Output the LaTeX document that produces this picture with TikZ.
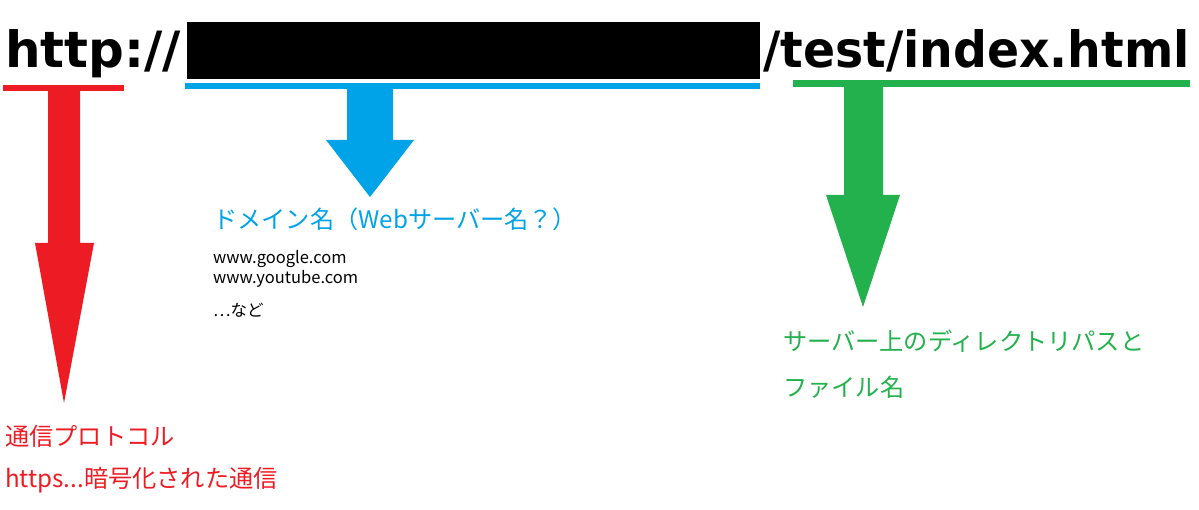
\documentclass[tikz,border=0pt]{standalone}
\usepackage{fontspec}
\setmainfont{DejaVu Sans}
\newfontfamily\jp{Noto Sans CJK JP}
\definecolor{pred}{HTML}{ED1C24}
\definecolor{pblue}{HTML}{00A2E8}
\definecolor{pgreen}{HTML}{22B14C}
\begin{document}
\begin{tikzpicture}[x=1pt,y=-1pt,
  urltxt/.style={inner sep=0pt, anchor=base west, font=\bfseries\fontsize{50}{60}\selectfont},
  lbl/.style={inner sep=0pt, anchor=west, font=\jp\fontsize{24.2}{29}\selectfont},
  small/.style={inner sep=0pt, anchor=west, font=\jp\fontsize{16.5}{19}\selectfont}]
\useasboundingbox (0,0) rectangle (1199,510);
% URL
\node[urltxt] (proto) at (5,68) {http://};
\fill[black] (187,22) rectangle (760,79);
\node[urltxt] (path) at (763,68) {\scalebox{0.947}[1]{/test/index.html}};
% red arrow
\fill[pred] (3,85) rectangle (124,91);
\fill[pred] (48,91) -- (48,243) -- (35,243) -- (64,403) -- (94,243) -- (80,243) -- (80,91) -- cycle;
% blue arrow
\fill[pblue] (185,83) rectangle (760,89);
\fill[pblue] (347,89) -- (347,140) -- (326,140) -- (370,197) -- (414,140) -- (393,140) -- (393,89) -- cycle;
% green arrow
\fill[pgreen] (793,80) rectangle (1190,87);
\fill[pgreen] (844,87) -- (844,195) -- (826,195) -- (863,307) -- (900,195) -- (883,195) -- (883,87) -- cycle;
% labels
\node[lbl, text=pblue] (dom) at (213,219) {ドメイン名（Webサーバー名？）};
\node[small] (ex1) at (213,259) {www.google.com};
\node[small] (ex2) at (213,279) {www.youtube.com};
\node[small] (ex3) at (213,310) {…など};
\node[lbl, text=pred] (prot1) at (5,436) {通信プロトコル};
\node[lbl, text=pred] (prot2) at (5,480) {https...暗号化された通信};
\node[lbl, text=pgreen] (dir1) at (783,341) {サーバー上のディレクトリパスと};
\node[lbl, text=pgreen] (dir2) at (783,387) {ファイル名};
\end{tikzpicture}
\end{document}
